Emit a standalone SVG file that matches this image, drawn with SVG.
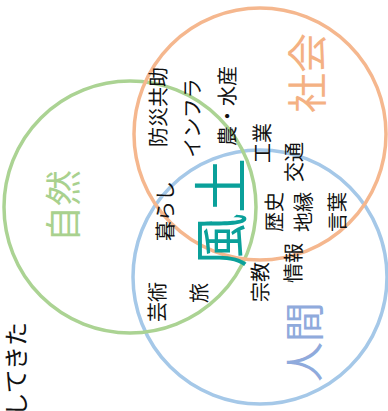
<svg xmlns="http://www.w3.org/2000/svg" width="388" height="411" viewBox="0 0 388 411">
<style>
.c{fill:none;stroke-width:3.5}
.t{font-family:"Noto Sans CJK JP","Noto Sans",sans-serif;text-anchor:middle;dominant-baseline:central}
.s{font-size:20px;fill:#111}
</style>
<rect width="388" height="411" fill="#fff"/>
<g id="circles">
<circle id="ningen-circle" class="c" cx="260" cy="277" r="127" stroke="#a5c8e8"/>
<circle id="shizen-circle" class="c" cx="130" cy="207" r="126" stroke="#abd393"/>
<circle id="shakai-circle" class="c" cx="260" cy="134" r="126" stroke="#f5b78e"/>
</g>
<g id="shizen"><text class="t" font-size="36" fill="#a9d18e" transform="translate(61,206) rotate(-90)">自然</text></g>
<g id="shakai"><text class="t" font-size="40" fill="#f4b183" transform="translate(305,73) rotate(-90)">社会</text></g>
<g id="ningen"><text class="t" font-size="40" fill="#8faadc" transform="translate(302,342) rotate(-90)">人間</text></g>
<g id="fudo"><text class="t" font-size="55" fill="#0aa09a" transform="translate(217,213) rotate(-90)">風土</text></g>
<g id="items">
<text class="t s" transform="translate(157,107) rotate(-90)">防災共助</text>
<text class="t s" transform="translate(191,118) rotate(-90)">インフラ</text>
<text class="t s" transform="translate(226,106) rotate(-90)">農・水産</text>
<text class="t s" transform="translate(261,143) rotate(-90)">工業</text>
<text class="t s" transform="translate(293,162) rotate(-90)">交通</text>
<text class="t s" transform="translate(164,211) rotate(-90)">暮らし</text>
<text class="t s" transform="translate(273,212) rotate(-90)">歴史</text>
<text class="t s" transform="translate(302,212) rotate(-90)">地縁</text>
<text class="t s" transform="translate(336,212) rotate(-90)">言葉</text>
<text class="t s" transform="translate(292,263) rotate(-90)">情報</text>
<text class="t s" transform="translate(259,282) rotate(-90)">宗教</text>
<text class="t s" transform="translate(156,302) rotate(-90)">芸術</text>
<text class="t s" transform="translate(198,293) rotate(-90)">旅</text>
</g>
<g id="caption"><text font-family="Noto Sans CJK JP,sans-serif" font-size="24" fill="#111" text-anchor="end" dominant-baseline="central" transform="translate(14,322) rotate(-90)">してきた</text></g>
</svg>
